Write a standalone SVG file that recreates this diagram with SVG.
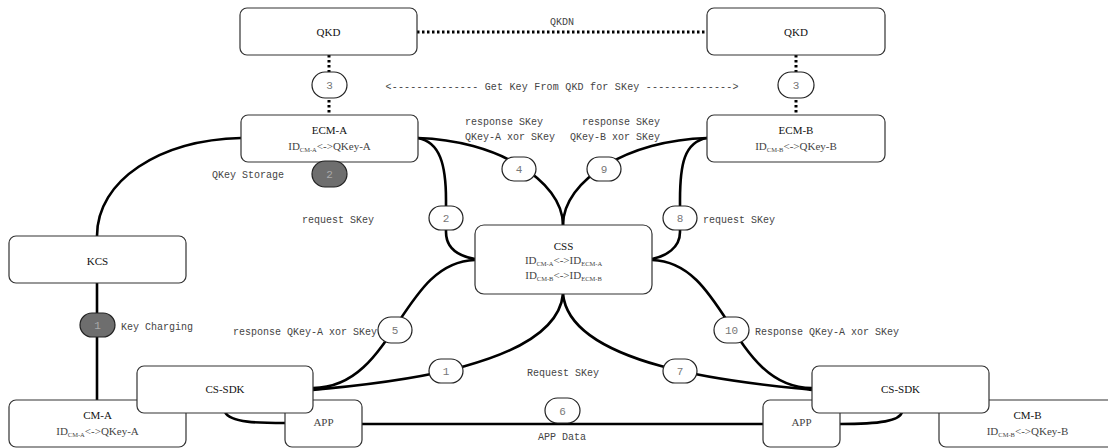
<svg xmlns="http://www.w3.org/2000/svg" width="1108" height="448" viewBox="0 0 1108 448">
<style>
.box{fill:#fff;stroke:#333;stroke-width:1.2}
.pill{fill:#fff;stroke:#222;stroke-width:1.2}
.pill-g{fill:#6e6e6e;stroke:#222;stroke-width:1.2}
.num{font-family:"Liberation Mono",monospace;font-size:11px;fill:#777;text-anchor:middle}
.num-g{font-family:"Liberation Mono",monospace;font-size:11px;fill:#aaa;text-anchor:middle}
.title{font-family:"Liberation Serif",serif;font-size:11px;fill:#111;text-anchor:middle}
.sub{font-family:"Liberation Serif",serif;font-size:11px;fill:#444;text-anchor:middle}
.lbl{font-family:"Liberation Mono",monospace;font-size:10px;fill:#444}
.edge{fill:none;stroke:#000;stroke-width:2.6}
.dot{fill:none;stroke:#000;stroke-width:3;stroke-dasharray:2.5 2.5}
</style>
<rect width="1108" height="448" fill="#fff"/>
<g id="connectors">
<path class="dot" d="M417,32 L707,32"/>
<path class="dot" d="M329,55 L329,115"/>
<path class="dot" d="M796,55 L796,115"/>
<path class="edge" d="M241,138 C160,140 97,180 97,236"/>
<path class="edge" d="M97,283 L97,400"/>
<path class="edge" d="M418,138 C495,140 563,180 563,225"/>
<path class="edge" d="M707,138 C629,140 563,180 563,225"/>
<path class="edge" d="M418,138 C440,142 446,165 446,200 L446,232 C446,248 458,256 475,259"/>
<path class="edge" d="M707,138 C684,142 680,165 680,200 L680,232 C680,248 666,256 652,259"/>
<path class="edge" d="M475,260 C400,262 395,388 313,388"/>
<path class="edge" d="M652,260 C727,262 731,388 812,388"/>
<path class="edge" d="M563,294 C555,375 342,386 313,390"/>
<path class="edge" d="M563,294 C571,375 784,386 812,390"/>
<path class="edge" d="M362,424 L763,424"/>
<path class="edge" d="M225,412 C230,423 260,423 285,423"/>
<path class="edge" d="M840,424 C880,424 900,421 902,412"/>
</g>
<g id="labels">
<text class="lbl" x="562" y="24.5" text-anchor="middle">QKDN</text>
<text class="lbl" x="562" y="89.5" text-anchor="middle" textLength="353" lengthAdjust="spacing">&lt;-------------- Get Key From QKD for SKey --------------&gt;</text>
<text class="lbl" x="212" y="177.5">QKey Storage</text>
<text class="lbl" x="302" y="222.5">request SKey</text>
<text class="lbl" x="703" y="222.5">request SKey</text>
<text class="lbl" x="465" y="125">response SKey</text>
<text class="lbl" x="465" y="140">QKey-A xor SKey</text>
<text class="lbl" x="660" y="125" text-anchor="end">response SKey</text>
<text class="lbl" x="660" y="140" text-anchor="end">QKey-B xor SKey</text>
<text class="lbl" x="121" y="330">Key Charging</text>
<text class="lbl" x="377" y="334.5" text-anchor="end">response QKey-A xor SKey</text>
<text class="lbl" x="755" y="334.5">Response QKey-A xor SKey</text>
<text class="lbl" x="563" y="375.5" text-anchor="middle">Request SKey</text>
<text class="lbl" x="562" y="439.5" text-anchor="middle">APP Data</text>
</g>
<g id="qkd-a"><rect class="box" x="240" y="8" width="177" height="47" rx="7"/><text class="title" x="328.5" y="36">QKD</text></g>
<g id="qkd-b"><rect class="box" x="707" y="8" width="178" height="47" rx="7"/><text class="title" x="796" y="36">QKD</text></g>
<g id="ecm-a"><rect class="box" x="241" y="115" width="177" height="47" rx="7"/><text class="title" x="329.5" y="134">ECM-A</text><text class="sub" x="329.5" y="149.5">ID<tspan font-size="6.5" dy="2">CM-A</tspan><tspan dy="-2">&lt;-&gt;QKey-A</tspan></text></g>
<g id="ecm-b"><rect class="box" x="707" y="115" width="178" height="47" rx="7"/><text class="title" x="796" y="134">ECM-B</text><text class="sub" x="796" y="149.5">ID<tspan font-size="6.5" dy="2">CM-B</tspan><tspan dy="-2">&lt;-&gt;QKey-B</tspan></text></g>
<g id="css"><rect class="box" x="475" y="225" width="177" height="69" rx="9"/><text class="title" x="563.5" y="250">CSS</text><text class="sub" x="563.5" y="264">ID<tspan font-size="6.5" dy="2">CM-A</tspan><tspan dy="-2">&lt;-&gt;ID</tspan><tspan font-size="6.5" dy="2">ECM-A</tspan></text><text class="sub" x="563.5" y="279">ID<tspan font-size="6.5" dy="2">CM-B</tspan><tspan dy="-2">&lt;-&gt;ID</tspan><tspan font-size="6.5" dy="2">ECM-B</tspan></text></g>
<g id="kcs"><rect class="box" x="9" y="236" width="177" height="47" rx="7"/><text class="title" x="97.5" y="265">KCS</text></g>
<g id="cm-a"><rect class="box" x="9" y="400" width="177" height="47" rx="7"/><text class="title" x="97.5" y="419">CM-A</text><text class="sub" x="97.5" y="435">ID<tspan font-size="6.5" dy="2">CM-A</tspan><tspan dy="-2">&lt;-&gt;QKey-A</tspan></text></g>
<g id="app-a"><rect class="box" x="285" y="400" width="77" height="47" rx="7"/><text class="sub" x="323.5" y="426">APP</text></g>
<g id="cs-sdk-a"><rect class="box" x="137" y="366" width="176" height="47" rx="7"/><text class="title" x="225" y="393">CS-SDK</text></g>
<g id="cm-b"><rect class="box" x="939" y="400" width="177" height="47" rx="7"/><text class="title" x="1027.5" y="419">CM-B</text><text class="sub" x="1027.5" y="435">ID<tspan font-size="6.5" dy="2">CM-B</tspan><tspan dy="-2">&lt;-&gt;QKey-B</tspan></text></g>
<g id="app-b"><rect class="box" x="763" y="400" width="77" height="47" rx="7"/><text class="sub" x="801.5" y="426">APP</text></g>
<g id="cs-sdk-b"><rect class="box" x="812" y="366" width="177" height="47" rx="7"/><text class="title" x="900.5" y="393">CS-SDK</text></g>
<g id="step-3a"><rect class="pill" x="312" y="72" width="35" height="26" rx="13"/><text class="num" x="329.5" y="89">3</text></g>
<g id="step-3b"><rect class="pill" x="778" y="72" width="36" height="26" rx="13"/><text class="num" x="796" y="89">3</text></g>
<g id="step-2g"><rect class="pill-g" x="312" y="161" width="35" height="26" rx="13"/><text class="num-g" x="329.5" y="178">2</text></g>
<g id="step-4"><rect class="pill" x="502" y="157" width="34" height="24" rx="12"/><text class="num" x="519" y="173">4</text></g>
<g id="step-9"><rect class="pill" x="587" y="157" width="34" height="24" rx="12"/><text class="num" x="604" y="173">9</text></g>
<g id="step-2"><rect class="pill" x="429" y="206" width="34" height="24" rx="12"/><text class="num" x="446" y="222">2</text></g>
<g id="step-8"><rect class="pill" x="663" y="206" width="34" height="24" rx="12"/><text class="num" x="680" y="222">8</text></g>
<g id="step-1g"><rect class="pill-g" x="80" y="313" width="35" height="24" rx="12"/><text class="num-g" x="97.5" y="329">1</text></g>
<g id="step-5"><rect class="pill" x="378" y="317" width="34" height="26" rx="13"/><text class="num" x="395" y="334">5</text></g>
<g id="step-10"><rect class="pill" x="714" y="317" width="35" height="26" rx="13"/><text class="num" x="731.5" y="334">10</text></g>
<g id="step-1"><rect class="pill" x="429" y="359" width="34" height="24" rx="12"/><text class="num" x="446" y="375">1</text></g>
<g id="step-7"><rect class="pill" x="663" y="359" width="34" height="24" rx="12"/><text class="num" x="680" y="375">7</text></g>
<g id="step-6"><rect class="pill" x="545" y="398" width="35" height="25" rx="12.5"/><text class="num" x="562.5" y="414.5">6</text></g>
</svg>
